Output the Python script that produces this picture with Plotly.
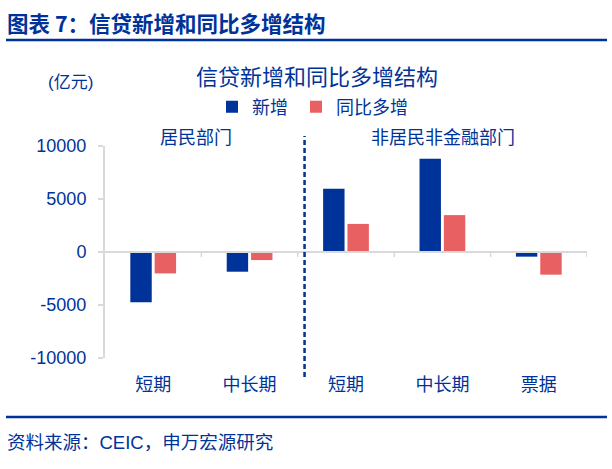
import plotly.graph_objects as go

categories = ["短期", "中长期", "短期", "中长期", "票据"]
sectors = ["居民部门", "非居民非金融部门"]
new_loans = [-4740, -1860, 5970, 8790, -440]
yoy_increase = [-2020, -760, 2650, 3480, -2140]
series_names = ["新增", "同比多增"]
y_ticks = [10000, 5000, 0, -5000, -10000]
y_tick_text = ["10000", "5000", "0", "-5000", "-10000"]

BLUE = "#003399"
RED = "#E96062"
TXT = "#003399"
GRID = "#D9D9D9"
FONT = "Liberation Sans, Arial, Noto Sans CJK SC"
CJK = "Noto Sans CJK SC"

x_idx = list(range(len(categories)))

fig = go.Figure()
fig.add_trace(go.Bar(x=x_idx, y=new_loans, name=series_names[0], legend="legend",
                     marker=dict(color=BLUE, line=dict(width=0))))
fig.add_trace(go.Bar(x=x_idx, y=yoy_increase, name=series_names[1], legend="legend2",
                     marker=dict(color=RED, line=dict(width=0))))

L, R, T, B = 105, 25, 146, 111
W, H = 612, 469
PW, PH = W - L - R, H - T - B


def px(xp):
    return (xp - L) / PW


def py(yp):
    return (H - B - yp) / PH


shapes = []
shapes.append(dict(type="line", xref="x", yref="y", x0=-0.5, x1=4.5, y0=0, y1=0,
                   line=dict(color=GRID, width=2)))
for b in [0.5, 1.5, 2.5, 3.5, 4.5]:
    shapes.append(dict(type="line", xref="x", yref="y", x0=b, x1=b, y0=0, y1=-480,
                       line=dict(color=GRID, width=1.5)))
shapes.append(dict(type="line", xref="x", yref="paper", x0=1.57, x1=1.57,
                   y0=py(377), y1=py(136), line=dict(color=BLUE, width=2.5, dash="5px,3px")))
shapes.append(dict(type="line", xref="paper", yref="paper", x0=px(6), x1=px(607),
                   y0=py(40), y1=py(40), line=dict(color=BLUE, width=2.5)))
shapes.append(dict(type="line", xref="paper", yref="paper", x0=px(6), x1=px(607),
                   y0=py(417), y1=py(417), line=dict(color=BLUE, width=2.5)))

annotations = [
    dict(text="<b>图表 7：信贷新增和同比多增结构</b>", x=px(5), y=py(23), xanchor="left",
         yanchor="middle", font=dict(size=21.5, color=BLUE, family=CJK)),
    dict(text="信贷新增和同比多增结构", x=px(317), y=py(75), xanchor="center", yanchor="middle",
         font=dict(size=22, color=TXT, family=CJK)),
    dict(text="(亿元)", x=px(70), y=py(82), xanchor="center", yanchor="middle",
         font=dict(size=17, color=TXT, family=FONT)),
    dict(text=sectors[0], x=px(196), y=py(136), xanchor="center", yanchor="middle",
         font=dict(size=18, color=TXT, family=CJK)),
    dict(text=sectors[1], x=px(443), y=py(136), xanchor="center", yanchor="middle",
         font=dict(size=18, color=TXT, family=CJK)),
    dict(text="资料来源：CEIC，申万宏源研究", x=px(5), y=py(442), xanchor="left", yanchor="middle",
         font=dict(size=18.5, color=TXT, family=FONT)),
]
for a in annotations:
    a.update(xref="paper", yref="paper", showarrow=False)

legend_common = dict(orientation="h", yanchor="middle", xanchor="left",
                     font=dict(size=18, color=TXT, family=CJK),
                     itemwidth=30, bgcolor="rgba(0,0,0,0)")

fig.update_layout(
    width=W, height=H,
    margin=dict(l=L, r=R, t=T, b=B),
    paper_bgcolor="white", plot_bgcolor="white",
    barmode="group", bargap=0.495, bargroupgap=0.12,
    font=dict(family=FONT, color=TXT, size=18),
    showlegend=True,
    legend=dict(x=px(212), y=py(107), **legend_common),
    legend2=dict(x=px(296), y=py(107), **legend_common),
    xaxis=dict(range=[-0.5, 4.5], tickvals=x_idx, ticktext=categories, showline=False,
               showgrid=False, zeroline=False, ticks="", ticklabelstandoff=14,
               tickfont=dict(size=18, color=TXT, family=CJK)),
    yaxis=dict(range=[-10000, 10000], tickvals=y_ticks, ticktext=y_tick_text,
               showgrid=False, zeroline=False,
               showline=True, linecolor=GRID, linewidth=2, ticks="outside", ticklen=5,
               tickcolor=GRID, tickwidth=1.5, ticklabelstandoff=8,
               tickfont=dict(size=18, color=TXT, family=FONT)),
    shapes=shapes,
    annotations=annotations,
)

fig.write_html("out.html", post_script="document.body.style.margin='0';",
               config={"displayModeBar": False})
